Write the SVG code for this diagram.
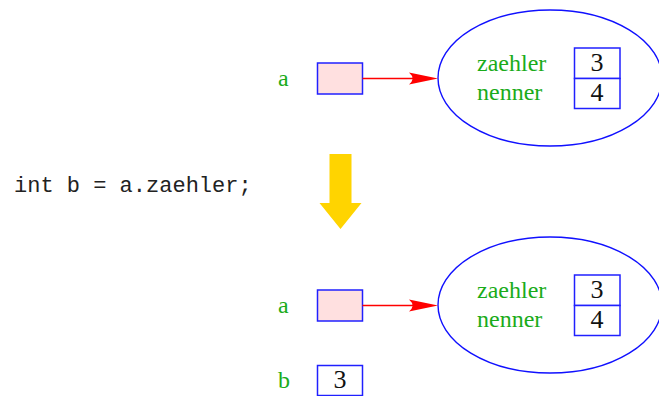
<svg xmlns="http://www.w3.org/2000/svg" width="659" height="396" viewBox="0 0 659 396">
<style>
.lbl{font-family:"Liberation Serif","Times New Roman",serif;font-size:24px;fill:#1aab1a}
.num{font-family:"Liberation Serif","Times New Roman",serif;font-size:26px;fill:#111;text-anchor:middle}
.code{font-family:"Liberation Mono","Courier New",monospace;font-size:22px;fill:#222}
.ptr{fill:#ffe0e0;stroke:#2020ff;stroke-width:1.5}
.box{fill:#fff;stroke:#2020ff;stroke-width:1.5}
.obj{fill:none;stroke:#1010ff;stroke-width:1.4}
.ref{stroke:#ff0000;stroke-width:1.5;fill:none}
.head{fill:#ff0000}
</style>
<defs>
<path id="ah" d="M0,0 L-29,-6 Q-22,0 -29,6 Z"/>
</defs>
<g id="code-stmt"><text class="code" x="14" y="192">int b = a.zaehler;</text></g>
<g id="transition-arrow"><polygon points="329.5,154 351.5,154 351.5,203 361.5,203 340.5,229 319.5,203 329.5,203" fill="#ffd400"/></g>

<g id="var-a-top">
<text class="lbl" x="278" y="86">a</text>
<rect class="ptr" x="317.5" y="63" width="45" height="31"/>
</g>
<g id="obj-top">
<ellipse class="obj" cx="550" cy="78" rx="112" ry="68"/>
<text class="lbl" x="477" y="71">zaehler</text>
<text class="lbl" x="477" y="100">nenner</text>
<rect class="box" x="574.5" y="48" width="45.5" height="30.5"/>
<rect class="box" x="574.5" y="78.5" width="45.5" height="30"/>
<text class="num" x="597" y="71">3</text>
<text class="num" x="597" y="101">4</text>
</g>

<g id="var-a-bottom">
<text class="lbl" x="278" y="313">a</text>
<rect class="ptr" x="317.5" y="290" width="45" height="31"/>
</g>
<g id="obj-bottom">
<ellipse class="obj" cx="550" cy="305" rx="112" ry="68"/>
<text class="lbl" x="477" y="298">zaehler</text>
<text class="lbl" x="477" y="327">nenner</text>
<rect class="box" x="574.5" y="275" width="45.5" height="30.5"/>
<rect class="box" x="574.5" y="305.5" width="45.5" height="30"/>
<text class="num" x="597" y="298">3</text>
<text class="num" x="597" y="328">4</text>
</g>

<g id="var-b">
<text class="lbl" x="278" y="388">b</text>
<rect class="box" x="317.5" y="365.5" width="45" height="30"/>
<text class="num" x="340" y="388">3</text>
</g>

<g id="connectors">
<line class="ref" x1="362.5" y1="78.5" x2="416" y2="78.5"/>
<use href="#ah" class="head" x="438" y="78.5"/>
<line class="ref" x1="362.5" y1="305.5" x2="416" y2="305.5"/>
<use href="#ah" class="head" x="438" y="305.5"/>
</g>
</svg>
